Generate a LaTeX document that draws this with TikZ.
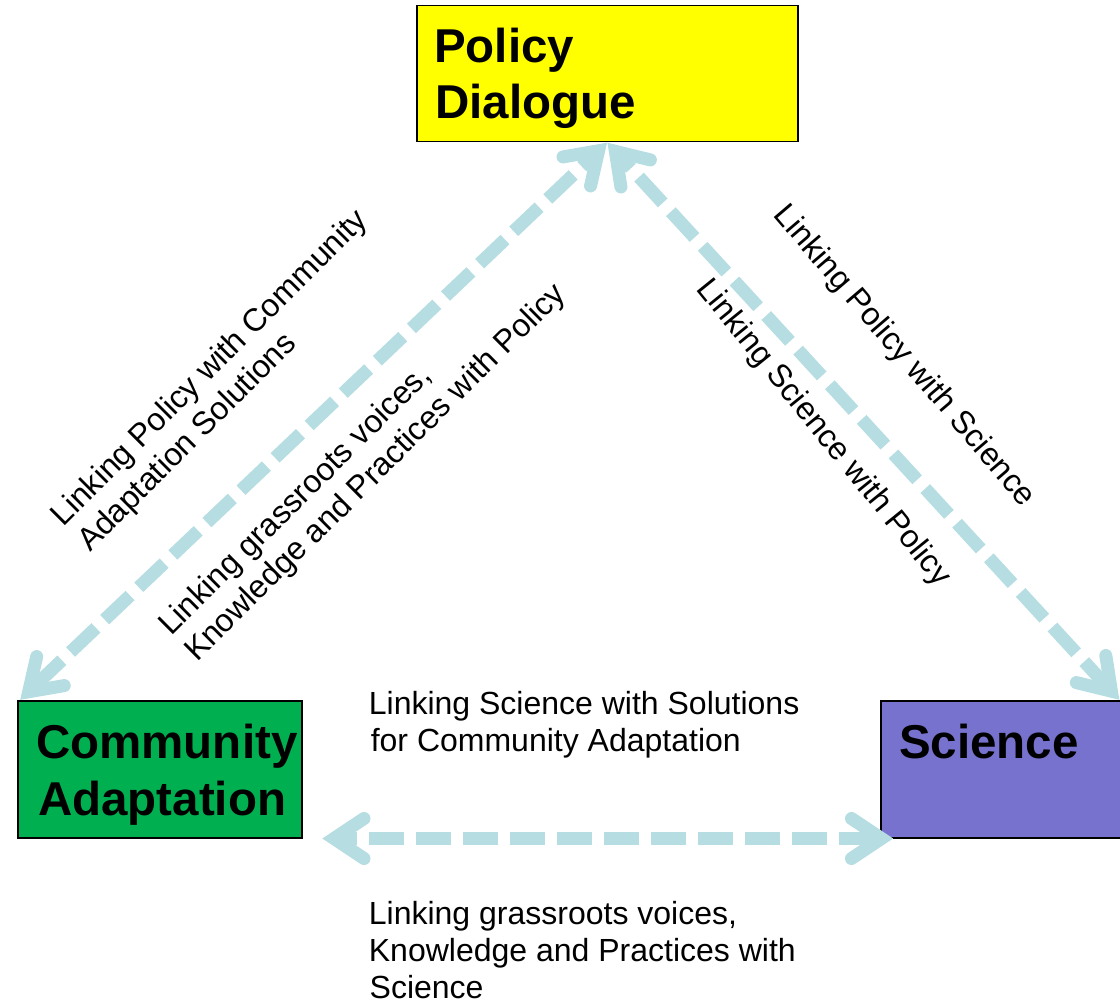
\documentclass[tikz,border=0pt]{standalone}
\usepackage{fontspec}
\setmainfont{Liberation Sans}
\usetikzlibrary{arrows.meta,calc}
\definecolor{linkblue}{RGB}{182,221,225}
\definecolor{pdyellow}{RGB}{255,255,0}
\definecolor{cagreen}{RGB}{0,176,80}
\definecolor{scpurple}{RGB}{118,114,206}

\pgfdeclarearrow{
  name = Chev,
  setup code = {
    \pgfarrowssettipend{0pt}
    \pgfarrowssetlineend{-14pt}
    \pgfarrowssetbackend{-49pt}
    \pgfarrowshullpoint{0pt}{0pt}
    \pgfarrowsupperhullpoint{-49pt}{27pt}
  },
  drawing code = {
    \pgfsetdash{}{+0pt}
    \pgfsetlinewidth{13pt}
    \pgfsetroundcap
    \pgfsetmiterjoin
    \pgfpathmoveto{\pgfqpoint{-42pt}{20pt}}
    \pgfpathlineto{\pgfqpoint{-12pt}{0pt}}
    \pgfpathlineto{\pgfqpoint{-42pt}{-20pt}}
    \pgfusepathqstroke
  },
  parameters = {},
}

\tikzset{
  box/.style={draw=black, line width=1.5pt, inner sep=0pt, anchor=north west},
  bigtxt/.style={font=\fontsize{47.5}{56}\selectfont\bfseries, inner sep=0pt, anchor=base west},
  smalltxt/.style={font=\fontsize{32}{37}\selectfont, inner sep=0pt, anchor=base west},
  link/.style={draw=linkblue, line width=13pt, dash pattern=on 35pt off 12pt, dash phase=14pt, arrows=Chev-Chev}
}

\begin{document}
\begin{tikzpicture}[x=1pt,y=-1pt]
\useasboundingbox (0,0) rectangle (1120,1003);

% boxes
\node[box, fill=pdyellow, minimum width=381pt, minimum height=136pt] (PD) at (416,5) {};
\node[box, fill=cagreen, minimum width=284pt, minimum height=137pt] (CA) at (17,700) {};
\node[box, fill=scpurple, minimum width=242pt, minimum height=137pt] (SC) at (880,700) {};

% box texts
\node[bigtxt] (PDt1) at (434,63) {Policy};
\node[bigtxt] (PDt2) at (435,119) {Dialogue};
\node[bigtxt] (CAt1) at (36,758) {Community};
\node[bigtxt] (CAt2) at (38,815) {Adaptation};
\node[bigtxt] (SCt1) at (899,758) {Science};

% rotated labels
\node[smalltxt, rotate=45] (A1) at (63.4,527.6) {Linking Policy with Community};
\node[smalltxt, rotate=45] (A2) at (90,553) {Adaptation Solutions};
\node[smalltxt, rotate=44.8] (B1) at (171,637) {Linking grassroots voices,};
\node[smalltxt, rotate=44.8] (B2) at (197,663) {Knowledge and Practices with Policy};
\node[smalltxt, rotate=-49.5] (C1) at (772.7,215.6) {Linking Policy with Science};
\node[smalltxt, rotate=-51] (D1) at (695.7,289) {Linking Science with Policy};

% horizontal labels
\node[smalltxt] (E1) at (368.7,714) {Linking Science with Solutions};
\node[smalltxt] (E2) at (370.6,751) {for Community Adaptation};
\node[smalltxt] (F1) at (368.7,924) {Linking grassroots voices,};
\node[smalltxt] (F2) at (368.7,961) {Knowledge and Practices with};
\node[smalltxt] (F3) at (369.5,998.5) {Science};

% connector end points
\coordinate (scTip) at ($(SC.north east)+(-4,0)$);
\coordinate (caTip) at ($(CA.north west)+(3,0)$);
\coordinate (hL) at ($(CA.south east)+(19.5,0)$);
\coordinate (hR) at ($(SC.south west)+(13.5,0)$);

% connectors
\draw[link] (PD.south) -- (caTip);
\draw[link] (PD.south) -- (scTip);
\draw[link] (hL) -- (hR);
\end{tikzpicture}
\end{document}
